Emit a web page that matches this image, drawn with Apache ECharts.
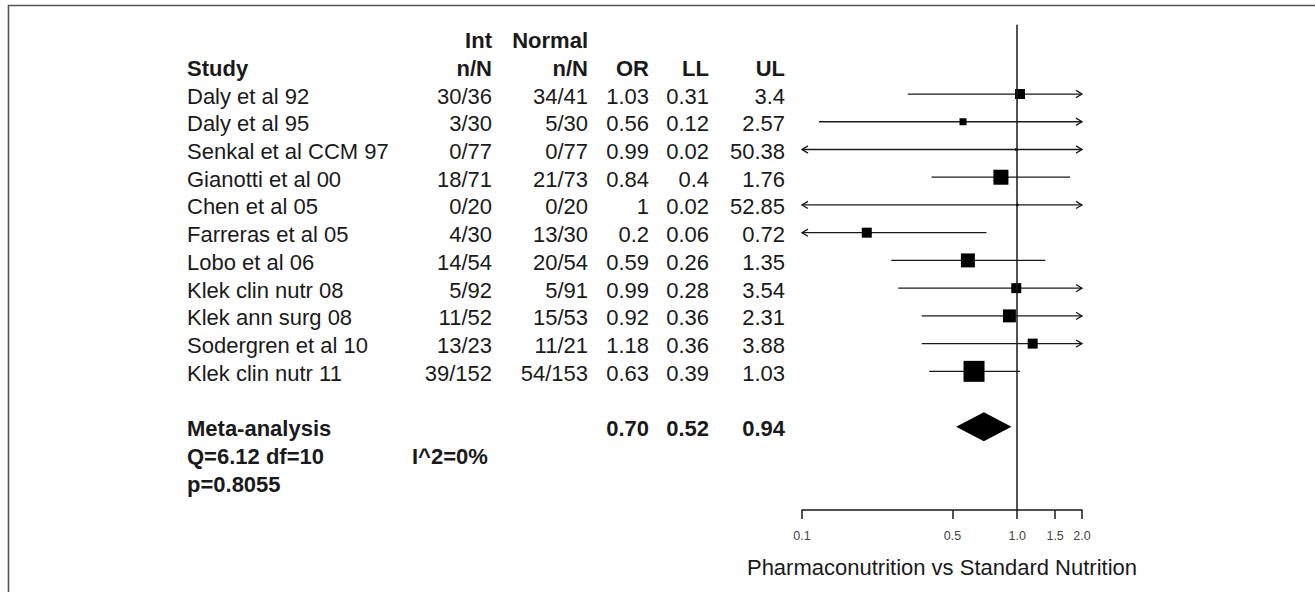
<!DOCTYPE html>
<html>
<head>
<meta charset="utf-8">
<title>Pharmaconutrition vs Standard Nutrition — forest plot</title>
<script src="https://cdn.jsdelivr.net/npm/echarts@6/dist/echarts.min.js"></script>
<style>
  html, body { margin: 0; padding: 0; background: #fff; }
  #chart { width: 1315px; height: 592px; }
</style>
</head>
<body>
<div id="chart"></div>
<script>
// ---- study data ----
const studies = [
  'Daly et al 92', 'Daly et al 95', 'Senkal et al CCM 97', 'Gianotti et al 00',
  'Chen et al 05', 'Farreras et al 05', 'Lobo et al 06', 'Klek clin nutr 08',
  'Klek ann surg 08', 'Sodergren et al 10', 'Klek clin nutr 11'
];
const intEvents    = ['30/36', '3/30', '0/77', '18/71', '0/20', '4/30', '14/54', '5/92', '11/52', '13/23', '39/152'];
const normalEvents = ['34/41', '5/30', '0/77', '21/73', '0/20', '13/30', '20/54', '5/91', '15/53', '11/21', '54/153'];
const oddsRatio  = [1.03, 0.56, 0.99, 0.84, 1, 0.2, 0.59, 0.99, 0.92, 1.18, 0.63];
const lowerLimit = [0.31, 0.12, 0.02, 0.4, 0.02, 0.06, 0.26, 0.28, 0.36, 0.36, 0.39];
const upperLimit = [3.4, 2.57, 50.38, 1.76, 52.85, 0.72, 1.35, 3.54, 2.31, 3.88, 1.03];
// relative study weight (%), shown as box area
const studyWeight = [6.7, 3.3, 0.4, 15.1, 0.4, 6.7, 13.1, 6.7, 11.3, 6.7, 29.6];

// pooled estimate and heterogeneity
const metaOR = 0.70, metaLL = 0.52, metaUL = 0.94;
const heterogeneityText = 'Q=6.12 df=10';
const i2Text = 'I^2=0%';
const pText = 'p=0.8055';

// axis
const axisTicks = [0.1, 0.5, 1, 1.5, 2];
const xAxisTitle = 'Pharmaconutrition vs Standard Nutrition';

// ---- layout ----
const FONT_FAMILY = '"Liberation Sans", Arial, Helvetica, sans-serif';
const X_MIN = 0.1, X_MAX = 2;
const Y_MIN = -2.5, Y_MAX = 15;          // row units; studies on rows 0..10
const ROW_META = studies.length + 1;     // pooled row after one blank row
const GRID_TOP = 24.7, GRID_BOTTOM = 82;
const INK = '#1a1a1a';
const BOX_SCALE = 3.86;                  // box side = BOX_SCALE * sqrt(weight)
const TEXT_DY = 2;                       // baseline nudge for table text

// table column anchors (horizontal layout units = page pixels)
const COL = {
  study:  { x: 187, align: 'left' },
  int:    { x: 492, align: 'right' },
  normal: { x: 588, align: 'right' },
  or:     { x: 649, align: 'right' },
  ll:     { x: 709, align: 'right' },
  ul:     { x: 785, align: 'right' },
  i2:     { x: 412, align: 'left' }
};

// build table cells: [x, row, text, bold, alignRight]
const cells = [];
function cell(col, row, text, bold) {
  const c = COL[col];
  cells.push([c.x, row, String(text), bold ? 1 : 0, c.align === 'right' ? 1 : 0]);
}
// header
cell('int', -2, 'Int', true);
cell('normal', -2, 'Normal', true);
cell('study', -1, 'Study', true);
cell('int', -1, 'n/N', true);
cell('normal', -1, 'n/N', true);
cell('or', -1, 'OR', true);
cell('ll', -1, 'LL', true);
cell('ul', -1, 'UL', true);
// studies
studies.forEach((s, i) => {
  cell('study', i, s, false);
  cell('int', i, intEvents[i], false);
  cell('normal', i, normalEvents[i], false);
  cell('or', i, oddsRatio[i], false);
  cell('ll', i, lowerLimit[i], false);
  cell('ul', i, upperLimit[i], false);
});
// pooled
cell('study', ROW_META, 'Meta-analysis', true);
cell('or', ROW_META, metaOR.toFixed(2), true);
cell('ll', ROW_META, metaLL.toFixed(2), true);
cell('ul', ROW_META, metaUL.toFixed(2), true);
cell('study', ROW_META + 1, heterogeneityText, true);
cell('i2', ROW_META + 1, i2Text, true);
cell('study', ROW_META + 2, pText, true);

const ciData = studies.map((s, i) => [lowerLimit[i], upperLimit[i], i]);
const boxData = studies.map((s, i) => [oddsRatio[i], i, studyWeight[i]]);

function arrowHead(p, dir) {
  // open chevron pointing left (dir=-1) or right (dir=1)
  return {
    type: 'polyline',
    shape: { points: [[p[0] - dir * 6, p[1] - 3.6], [p[0], p[1]], [p[0] - dir * 6, p[1] + 3.6]] },
    style: { stroke: INK, lineWidth: 1.3, fill: null }
  };
}

const chart = echarts.init(document.getElementById('chart'), null, { renderer: 'svg' });

chart.setOption({
  backgroundColor: '#fff',
  animation: false,
  textStyle: { fontFamily: FONT_FAMILY },
  graphic: [{
    type: 'polyline',
    shape: { points: [[8.5, 592], [8.5, 5.5], [1315, 5.5]] },
    style: { stroke: '#555', lineWidth: 1.6, fill: null },
    silent: true
  }],
  grid: [
    { left: 802, right: 233, top: GRID_TOP, bottom: GRID_BOTTOM },
    { left: 0, right: 0, top: GRID_TOP, bottom: GRID_BOTTOM }
  ],
  xAxis: [
    {
      gridIndex: 0,
      type: 'log',
      logBase: 10,
      min: X_MIN,
      max: X_MAX,
      axisLine: { show: true, onZero: false, lineStyle: { color: INK, width: 1.5 } },
      axisTick: { show: true, customValues: axisTicks, length: 9, lineStyle: { color: INK, width: 1.5 } },
      axisLabel: {
        customValues: axisTicks,
        formatter: v => Number(v).toFixed(1),
        fontSize: 12.5,
        color: '#444',
        margin: 19,
        fontFamily: FONT_FAMILY
      },
      splitLine: { show: false },
      minorTick: { show: false },
      name: xAxisTitle,
      nameLocation: 'middle',
      nameGap: 46,
      nameTextStyle: { fontSize: 22, color: INK, fontFamily: FONT_FAMILY }
    },
    { gridIndex: 1, type: 'value', min: 0, max: 1315, show: false }
  ],
  yAxis: [
    { gridIndex: 0, type: 'value', inverse: true, min: Y_MIN, max: Y_MAX, show: false },
    { gridIndex: 1, type: 'value', inverse: true, min: Y_MIN, max: Y_MAX, show: false }
  ],
  series: [
    {
      // confidence intervals, arrows where they run past the axis
      type: 'custom',
      xAxisIndex: 0, yAxisIndex: 0,
      data: ciData,
      clip: false,
      renderItem(params, api) {
        const lo = api.value(0), hi = api.value(1), row = api.value(2);
        const p0 = api.coord([Math.max(lo, X_MIN), row]);
        const p1 = api.coord([Math.min(hi, X_MAX), row]);
        const children = [{
          type: 'line',
          shape: { x1: p0[0], y1: p0[1], x2: p1[0], y2: p1[1] },
          style: { stroke: INK, lineWidth: 1.3 }
        }];
        if (lo < X_MIN) children.push(arrowHead(p0, -1));
        if (hi > X_MAX) children.push(arrowHead(p1, 1));
        return { type: 'group', children };
      },
      markLine: {
        silent: true,
        symbol: 'none',
        label: { show: false },
        lineStyle: { color: INK, width: 1.5, type: 'solid' },
        data: [{ xAxis: 1 }]
      },
      z: 2
    },
    {
      // study estimates, box area by weight
      type: 'scatter',
      xAxisIndex: 0, yAxisIndex: 0,
      symbol: 'rect',
      symbolSize: v => BOX_SCALE * Math.sqrt(v[2]),
      itemStyle: { color: '#000', opacity: 1 },
      data: boxData,
      z: 3
    },
    {
      // pooled estimate diamond
      type: 'custom',
      xAxisIndex: 0, yAxisIndex: 0,
      data: [[metaLL, metaOR, metaUL, ROW_META]],
      renderItem(params, api) {
        const row = api.value(3);
        const l = api.coord([api.value(0), row]);
        const m = api.coord([api.value(1), row]);
        const r = api.coord([api.value(2), row]);
        const h = 14.5;
        return {
          type: 'polygon',
          shape: { points: [l, [m[0], m[1] - h], r, [m[0], m[1] + h]] },
          style: { fill: '#000' }
        };
      },
      z: 3
    },
    {
      // table text
      type: 'custom',
      xAxisIndex: 1, yAxisIndex: 1,
      silent: true,
      clip: false,
      dimensions: ['x', 'row', 'text', 'bold', 'right'],
      encode: { x: 0, y: 1 },
      data: cells,
      renderItem(params, api) {
        const d = cells[params.dataIndex];
        const p = api.coord([d[0], d[1]]);
        return {
          type: 'text',
          x: p[0],
          y: p[1] + TEXT_DY,
          style: {
            text: d[2],
            fill: INK,
            font: (d[3] ? 'bold ' : '') + '22px ' + FONT_FAMILY,
            align: d[4] ? 'right' : 'left',
            verticalAlign: 'middle',
            textAlign: d[4] ? 'right' : 'left',
            textVerticalAlign: 'middle'
          }
        };
      }
    }
  ]
});
</script>
</body>
</html>
